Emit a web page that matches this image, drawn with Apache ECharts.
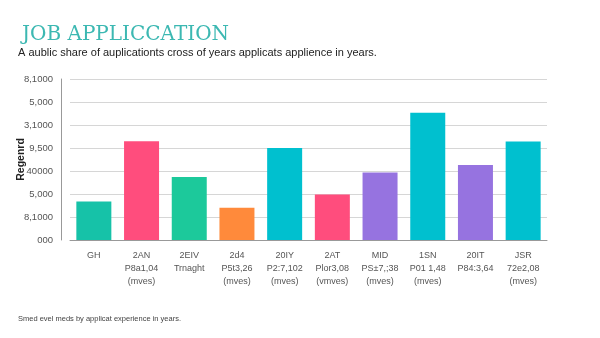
<!DOCTYPE html>
<html>
<head>
<meta charset="utf-8">
<script src="https://cdn.jsdelivr.net/npm/echarts@6/dist/echarts.min.js"></script>
<style>
  html, body { margin: 0; padding: 0; background: #fff; }
  #chart { width: 600px; height: 338px; }
</style>
</head>
<body>
<div id="chart"></div>
<script>
// categories shown under each bar (kept as printed)
const categories = [
  'GH\n ',
  '2AN\nP8a1,04\n(mves)',
  '2EIV\nTrnaght',
  '2d4\nP5t3,26\n(mves)',
  '20IY\nP2:7,102\n(mves)',
  '2AT\nPlor3,08\n(vmves)',
  'MID\nPS±7,;38\n(mves)',
  '1SN\nP01 1,48\n(mves)',
  '20IT\nP84:3,64',
  'JSR\n72e2,08\n(mves)'
]
// bar heights, in grid steps
const values = [1.67, 4.29, 2.74, 1.40, 4.00, 1.98, 2.94, 5.53, 3.26, 4.28]
const barColors = ['#16c2a8', '#ff4d7d', '#1cc99b', '#ff8a3b', '#00c0cf', '#ff4d7d', '#9673e0', '#00c0cf', '#9673e0', '#00c0cf']
// y tick labels, bottom to top
const yTicks = ['000', '8,1000', '5,000', '40000', '9,500', '3,1000', '5,000', '8,1000']

const chart = echarts.init(document.getElementById('chart'))
chart.setOption({
  backgroundColor: '#fff',
  title: [
    {
      text: 'JOB APPLICCATION',
      left: 17,
      top: 20,
      textStyle: { fontFamily: 'DejaVu Serif', fontWeight: 'normal', fontSize: 20, color: '#3cb8b2' }
    },
    {
      text: 'A aublic share of auplicationts cross of years applicats applience in years.',
      left: 13,
      top: 42,
      textStyle: { fontFamily: 'Liberation Sans', fontWeight: 'normal', fontSize: 11, color: '#222' }
    },
    {
      text: 'Smed evel meds by applicat experience in years.',
      left: 13,
      top: 310,
      textStyle: { fontFamily: 'Liberation Sans', fontWeight: 'normal', fontSize: 7.5, color: '#444' }
    }
  ],
  grid: { left: 70, right: 53, top: 79, bottom: 98, outerBoundsMode: 'none' },
  xAxis: {
    type: 'category',
    data: categories,
    axisLine: { lineStyle: { color: '#999' } },
    axisTick: { show: false },
    axisLabel: {
      color: '#555',
      fontSize: 9,
      fontFamily: 'Liberation Sans',
      lineHeight: 13,
      margin: 9,
      interval: 0
    }
  },
  yAxis: {
    type: 'value',
    min: 0,
    max: 7,
    interval: 1,
    offset: 9,
    name: 'Regenrd',
    nameLocation: 'middle',
    nameGap: 34,
    nameMoveOverlap: false,
    nameRotate: 90,
    nameTextStyle: { fontSize: 10.5, color: '#222', fontFamily: 'Liberation Sans', fontWeight: 'bold' },
    axisLine: { show: true, lineStyle: { color: '#999' } },
    axisTick: { show: false },
    splitLine: { lineStyle: { color: '#d6d6d6' } },
    axisLabel: {
      color: '#555',
      fontSize: 9.5,
      fontFamily: 'Liberation Sans',
      margin: 8,
      formatter: (v) => yTicks[v]
    }
  },
  series: [
    {
      type: 'bar',
      barWidth: 35,
      data: values.map((v, i) => ({ value: v, itemStyle: { color: barColors[i] } }))
    }
  ]
})
</script>
</body>
</html>
